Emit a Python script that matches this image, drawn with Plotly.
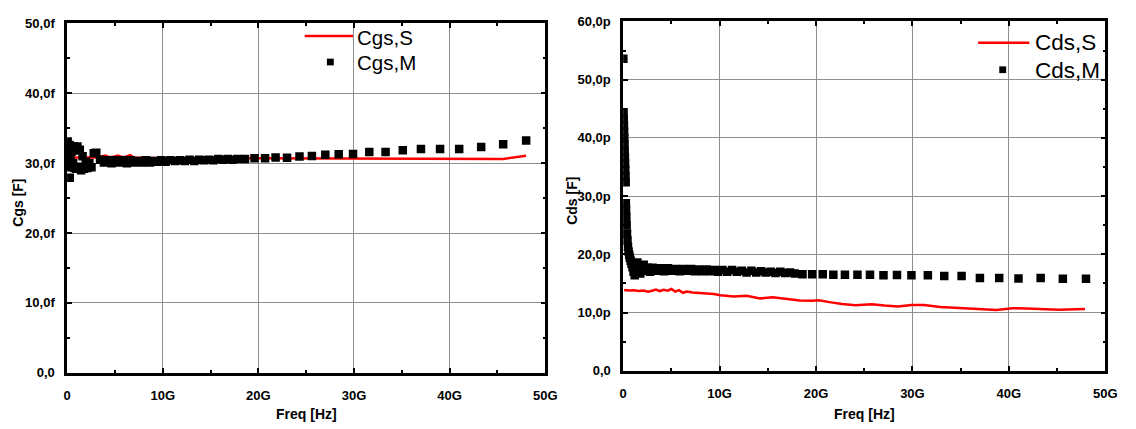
import plotly.graph_objects as go

# Frequency sweep of the measured points (GHz)
freq_m = [0.02, 0.04, 0.06, 0.08, 0.10, 0.12, 0.14, 0.16, 0.18, 0.20,
          0.22, 0.24, 0.26, 0.28, 0.30, 0.33, 0.36, 0.40, 0.45, 0.50,
          0.56, 0.63, 0.70, 0.78, 0.87, 0.97, 1.08, 1.20, 1.33, 1.47,
          1.62, 1.78, 1.95, 2.13, 2.33, 2.55, 2.79, 3.05, 3.45, 3.85,
          4.25, 4.65, 5.05, 5.45, 5.85, 6.25, 6.65, 7.05, 7.45, 7.85,
          8.25, 8.65, 9.05, 9.45, 9.85, 10.3, 10.8, 11.3, 11.8, 12.3,
          12.8, 13.3, 13.8, 14.3, 14.8, 15.3, 15.8, 16.3, 16.8, 17.3,
          17.8, 18.6, 19.6, 20.7, 21.8, 23.0, 24.3, 25.6, 27.0, 28.4,
          29.9, 31.6, 33.3, 35.1, 37.0, 39.0, 41.0, 43.3, 45.6, 48.0]

# Measured gate-source capacitance (fF)
cgs_m = [32.6, 30.4, 33.1, 29.6, 32.4, 30.0, 31.8, 29.4, 32.0, 30.6,
         31.4, 29.8, 32.6, 27.9, 31.2, 29.8, 32.4, 30.2, 31.6, 29.6,
         32.2, 30.0, 32.4, 29.3, 31.8, 29.2, 32.4, 29.5, 31.9, 29.0,
         31.0, 29.2, 30.2, 29.3, 30.0, 29.4, 31.4, 31.5, 30.5, 30.1,
         30.4, 30.0, 30.4, 30.1, 30.4, 30.0, 30.4, 30.1, 30.3, 30.1,
         30.4, 30.1, 30.3, 30.2, 30.4, 30.2, 30.4, 30.3, 30.4, 30.3,
         30.5, 30.3, 30.5, 30.4, 30.5, 30.4, 30.6, 30.5, 30.6, 30.5,
         30.6, 30.6, 30.7, 30.7, 30.8, 30.76, 30.94, 31.03, 31.21, 31.26,
         31.31, 31.59, 31.59, 31.86, 32.04, 32.04, 32.04, 32.32, 32.69, 33.24]

# Measured drain-source capacitance (pF)
cds_m = [53.6, 44.4, 43.3, 42.2, 41.1, 40.0, 38.9, 37.8, 36.7, 35.6,
         34.5, 33.4, 32.4, 28.8, 27.7, 26.4, 25.0, 23.6, 22.4, 21.3,
         20.5, 19.9, 19.4, 18.9, 18.4, 17.8, 17.0, 16.4, 17.3, 18.6,
         17.4, 16.7, 17.5, 18.2, 17.2, 17.7, 17.0, 17.7, 17.2, 17.6,
         17.1, 17.6, 17.2, 17.5, 17.1, 17.5, 17.2, 17.5, 17.1, 17.4,
         17.1, 17.4, 17.1, 17.3, 17.0, 17.3, 17.0, 17.3, 17.0, 17.2,
         16.9, 17.2, 16.9, 17.1, 16.9, 17.0, 16.8, 17.0, 16.8, 16.9,
         16.7, 16.6, 16.6, 16.6, 16.5, 16.5, 16.5, 16.5, 16.4, 16.45,
         16.4, 16.4, 16.3, 16.3, 15.95, 15.95, 15.85, 15.95, 15.8, 15.8]

# Simulated gate-source capacitance (GHz, fF)
freq_cgs_s = [0.1, 1.0, 2.0, 2.6, 3.2, 3.6, 4.0, 4.4, 4.8, 5.3, 5.8, 6.2,
              6.6, 7.0, 8.0, 10.0, 15.0, 20.0, 25.0, 30.0, 35.0, 40.0,
              43.1, 45.6, 48.0]
cgs_s = [30.8, 30.8, 30.8, 30.9, 30.8, 30.95, 31.1, 30.85, 30.9, 31.1, 30.85, 30.95,
         31.15, 30.8, 30.75, 30.7, 30.7, 30.7, 30.7, 30.7, 30.7, 30.7,
         30.65, 30.6, 31.05]

# Simulated drain-source capacitance (GHz, pF)
freq_cds_s = [0.1, 0.6, 1.1, 1.6, 2.1, 2.6, 3.0, 3.4, 3.8, 4.2, 4.6, 5.0,
              5.4, 5.8, 6.2, 6.6, 7.2, 8.4, 9.4, 10.1, 11.5, 12.8, 14.2,
              15.5, 16.9, 18.3, 19.6, 20.3, 21.4, 22.7, 24.1, 25.8, 27.1,
              28.5, 29.9, 31.2, 32.9, 34.6, 36.3, 38.7, 40.4, 41.8, 43.1,
              45.2, 47.9]
cds_s = [13.9, 13.8, 13.85, 13.7, 13.8, 13.6, 13.75, 13.95, 13.7, 13.9, 13.75, 14.05,
         13.6, 13.85, 13.4, 13.6, 13.45, 13.3, 13.2, 12.97, 12.75, 12.91, 12.42,
         12.63, 12.37, 12.09, 12.03, 12.13, 11.80, 11.47, 11.26, 11.42, 11.21,
         11.04, 11.31, 11.31, 10.98, 10.88, 10.65, 10.43, 10.76, 10.71, 10.60,
         10.48, 10.60]

freq_ticks = [0, 10, 20, 30, 40, 50]
freq_ticktext = ["0", "10G", "20G", "30G", "40G", "50G"]
cgs_ticks = [0, 10, 20, 30, 40, 50]
cgs_ticktext = ["0,0", "10,0f", "20,0f", "30,0f", "40,0f", "50,0f"]
cds_ticks = [0, 10, 20, 30, 40, 50, 60]
cds_ticktext = ["0,0", "10,0p", "20,0p", "30,0p", "40,0p", "50,0p", "60,0p"]

W, H = 1136, 429
FONT = "Liberation Sans, Arial, Helvetica, sans-serif"
RED = "#ff0000"
MARKER_SIZE = 8.5


def fx(p):
    return p / W


def fy(p):
    return 1 - p / H


def axis_style(domain, tickvals, ticktext, rng, anchor, standoff):
    return dict(
        domain=domain, range=rng, anchor=anchor,
        tickmode="array", tickvals=tickvals, ticktext=ticktext,
        ticks="inside", ticklen=5, tickwidth=2, tickcolor="black",
        minor=dict(ticks="inside", ticklen=3, tickwidth=2, tickcolor="black",
                   dtick=5, tick0=0, showgrid=False),
        showline=True, linecolor="black", linewidth=2.5, mirror="ticks",
        showgrid=True, gridcolor="#8f8f8f", gridwidth=1,
        zeroline=False, ticklabelstandoff=standoff,
        tickfont=dict(family=FONT, size=13, color="black", weight="bold"),
        fixedrange=True,
    )


fig = go.Figure()

fig.add_trace(go.Scatter(
    x=freq_cgs_s, y=cgs_s, mode="lines", name="Cgs,S",
    line=dict(color=RED, width=2.5), xaxis="x", yaxis="y"))
fig.add_trace(go.Scatter(
    x=freq_m, y=cgs_m, mode="markers", name="Cgs,M",
    marker=dict(symbol="square", size=MARKER_SIZE, color="black"),
    xaxis="x", yaxis="y"))
fig.add_trace(go.Scatter(
    x=freq_cds_s, y=cds_s, mode="lines", name="Cds,S",
    line=dict(color=RED, width=2.5), xaxis="x2", yaxis="y2"))
fig.add_trace(go.Scatter(
    x=freq_m, y=cds_m, mode="markers", name="Cds,M",
    marker=dict(symbol="square", size=MARKER_SIZE, color="black"),
    xaxis="x2", yaxis="y2"))

title_font = dict(family=FONT, size=14, color="black", weight="bold")


def paper_text(text, x, y, font, **kw):
    return dict(text=text, x=fx(x), y=fy(y), xref="paper", yref="paper",
                showarrow=False, font=font, **kw)


annotations = [
    paper_text("Freq [Hz]", 306.5, 422, title_font, xanchor="center", yanchor="middle"),
    paper_text("Freq [Hz]", 872.5, 422, title_font, xanchor="center", yanchor="middle"),
    paper_text("Cgs [F]", 14, 203, title_font, textangle=-90,
               xanchor="center", yanchor="middle"),
    paper_text("Cds [F]", 576, 201, title_font, textangle=-90,
               xanchor="center", yanchor="middle"),
]

# Legend keys: a line sample for the simulated curve, a square for the measured points
shapes = []
legend_entries = [
    # (line x0, line x1, line y, marker x, marker y, text x, row1 y, row2 y, size, labels)
    (305, 354, 30, 331, 57, 356, 32, 57, 20.5, ("Cgs,S", "Cgs,M")),
    (988, 1040, 37, 1013, 65, 1044, 36.5, 65.5, 22.5, ("Cds,S", "Cds,M")),
]
for lx0, lx1, ly, mx, my, tx, ty1, ty2, fs, labels in legend_entries:
    shapes.append(dict(type="line", xref="paper", yref="paper",
                       x0=fx(lx0), x1=fx(lx1), y0=fy(ly), y1=fy(ly),
                       line=dict(color=RED, width=2.5)))
    half = 3.5
    shapes.append(dict(type="rect", xref="paper", yref="paper",
                       x0=fx(mx - half), x1=fx(mx + half),
                       y0=fy(my + half), y1=fy(my - half),
                       fillcolor="black", line=dict(width=0)))
    leg_font = dict(family=FONT, size=fs, color="black")
    annotations.append(paper_text(labels[0], tx, ty1, leg_font,
                                  xanchor="left", yanchor="middle"))
    annotations.append(paper_text(labels[1], tx, ty2, leg_font,
                                  xanchor="left", yanchor="middle"))

fig.update_layout(
    width=W, height=H,
    margin=dict(l=0, r=0, t=0, b=0),
    paper_bgcolor="white", plot_bgcolor="white",
    font=dict(family=FONT, color="black"),
    xaxis=axis_style([fx(64), fx(549)], freq_ticks, freq_ticktext, [0, 50], "y", 9),
    yaxis=axis_style([fy(379), fy(17)], cgs_ticks, cgs_ticktext, [0, 50], "x", 7),
    xaxis2=axis_style([fx(628), fx(1117)], freq_ticks, freq_ticktext, [0, 50], "y2", 9),
    yaxis2=axis_style([fy(377), fy(15)], cds_ticks, cds_ticktext, [0, 60], "x2", 7),
    annotations=annotations,
    shapes=shapes,
    showlegend=False,
)

fig.write_html("out.html", config=dict(displayModeBar=False))
